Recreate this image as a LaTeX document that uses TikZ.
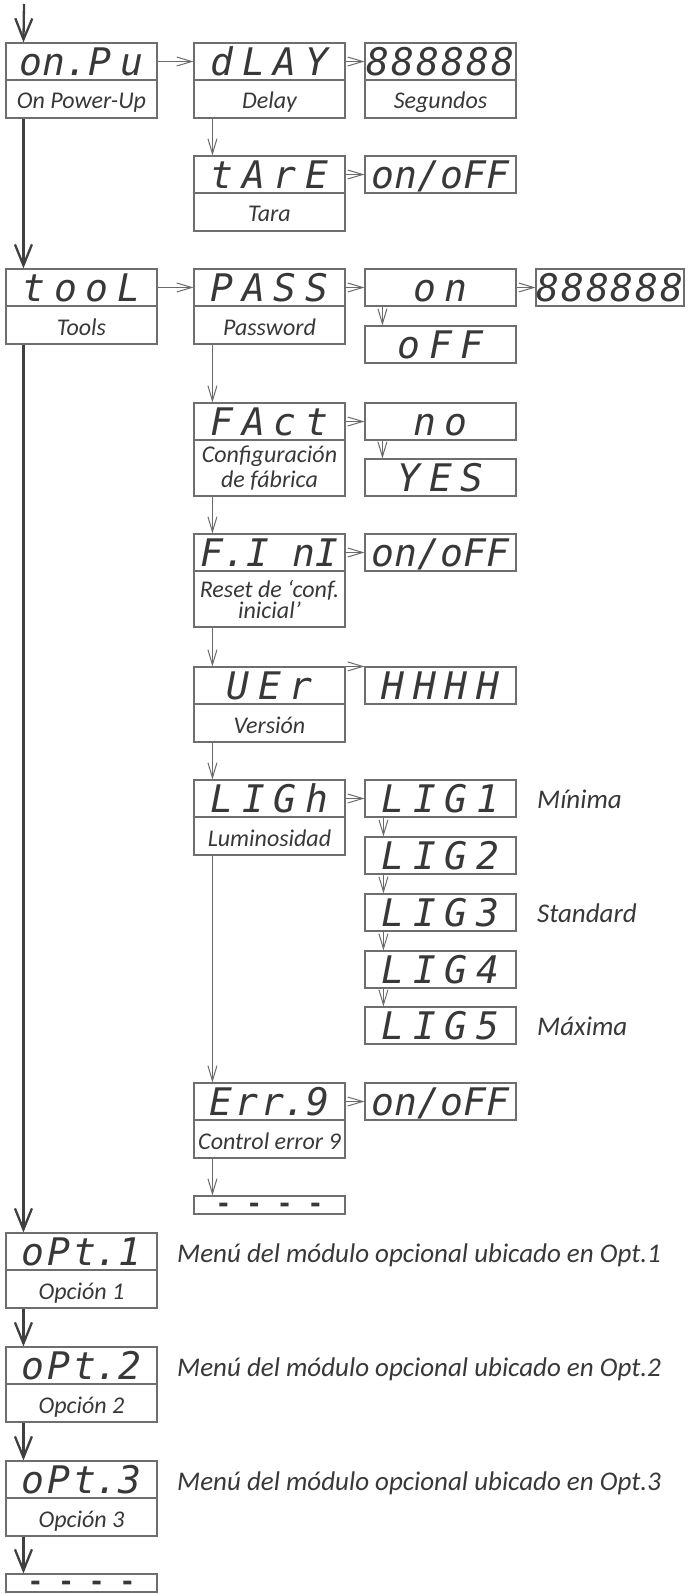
\documentclass[tikz,border=0pt]{standalone}
\usepackage{fontspec}
\setmainfont{Carlito}
\newfontfamily\segfont{DejaVu Sans Mono}
\usetikzlibrary{arrows.meta}
\definecolor{boxc}{HTML}{6E6E6E}
\definecolor{txt}{HTML}{383838}
\definecolor{thk}{HTML}{404040}
\definecolor{arc}{HTML}{6A6A6A}
\newcommand\gp{\kern9pt\relax}
\newcommand\gs{\kern3pt\relax}
\newcommand\gd{\kern15pt\relax}
\begin{document}
\begin{tikzpicture}[x=1pt,y=-1pt,
  box/.style={draw=boxc, line width=1.1pt, rectangle, inner sep=0pt, minimum width=151pt, text=txt},
  disp/.style={box, minimum height=37pt, font=\segfont\itshape\fontsize{38pt}{38pt}\selectfont, text height=27.5pt, text depth=0pt},
  desc/.style={box, font=\itshape\fontsize{24pt}{25pt}\selectfont, align=center},
  descone/.style={desc, minimum height=38pt, text height=20pt, text depth=0pt},
  dashbox/.style={box, minimum height=18pt},
  dashes/.style={anchor=north, inner sep=0pt, text=txt, font=\segfont\bfseries\fontsize{26pt}{26pt}\selectfont},
  side/.style={anchor=base west, inner sep=0pt, text=txt, font=\itshape\fontsize{27pt}{27pt}\selectfont},
  thickarrow/.style={draw=thk, line width=2.3pt, -{Straight Barb[length=21pt,width=17pt]}},
  thinarrow/.style={draw=arc, line width=1pt, -{Straight Barb[length=15pt,width=9pt]}}
]
\useasboundingbox (0,0) rectangle (689,1594);

% ---- column A
\node[disp]  (onpu)  at (81.5,61.5) {on.P\gp u};
\node[descone] (onpud) at (81.5,99) {On Power-Up};
\node[disp]  (tool)  at (81.5,287.5) {t\gp o\gp o\gp L};
\node[descone] (toold) at (81.5,325) {Tools};
\node[disp]  (opt1)  at (81.5,1251.5) {o\gs P\gs t.1};
\node[descone] (opt1d) at (81.5,1289) {Opción 1};
\node[disp]  (opt2)  at (81.5,1365.5) {o\gs P\gs t.2};
\node[descone] (opt2d) at (81.5,1403) {Opción 2};
\node[disp]  (opt3)  at (81.5,1479.5) {o\gs P\gs t.3};
\node[descone] (opt3d) at (81.5,1517) {Opción 3};
\node[dashbox] (enda) at (81.5,1583) {};
\node[dashes] (endat) at ([yshift=1.7pt]enda.center) {-\gd-\gd-\gd-};

% ---- column B
\node[disp]  (dlay)  at (269.5,61.5) {d\gp L\gp A\gp Y};
\node[descone] (dlayd) at (269.5,99) {Delay};
\node[disp]  (tare)  at (269.5,174.5) {t\gp A\gp r\gp E};
\node[descone] (tared) at (269.5,212) {Tara};
\node[disp]  (pass)  at (269.5,287.5) {P\gp A\gp S\gp S};
\node[descone] (passd) at (269.5,325) {Password};
\node[disp]  (fact)  at (269.5,421.5) {F\gp A\gp c\gp t};
\node[desc, minimum height=56pt] (factd) at (269.5,468) {Configuración\\de fábrica};
\node[disp]  (fini)  at (269.5,552.5) {F.I nI};
\node[desc, minimum height=56pt, font=\itshape\fontsize{24pt}{21pt}\selectfont] (finid) at (269.5,599) {Reset de ‘conf.\\inicial’};
\node[disp]  (ver)   at (269.5,685.5) {U\gp E\gp r};
\node[descone] (verd) at (269.5,723) {Versión};
\node[disp]  (ligh)  at (269.5,798.5) {L\gp I\gp G\gp h};
\node[descone] (lighd) at (269.5,836) {Luminosidad};
\node[disp]  (err)   at (269.5,1101.5) {E\gs r\gs r.9};
\node[descone] (errd) at (269.5,1139) {Control error 9};
\node[dashbox] (endb) at (269.5,1205) {};
\node[dashes] (endbt) at ([yshift=1.7pt]endb.center) {-\gd-\gd-\gd-};

% ---- column C
\node[disp]  (segs)  at (440.5,61.5) {8\kern2pt8\kern2pt8\kern2pt8\kern2pt8\kern2pt8};
\node[descone] (segsd) at (440.5,99) {Segundos};
\node[disp]  (onoffa) at (440.5,174.5) {on/oFF};
\node[disp]  (on)    at (440.5,287.5) {o\gp n};
\node[disp]  (off)   at (440.5,344.5) {o\gp F\gp F};
\node[disp]  (no)    at (440.5,421.5) {n\gp o};
\node[disp]  (yes)   at (440.5,477.5) {Y\gp E\gp S};
\node[disp]  (onoffb) at (440.5,552.5) {on/oFF};
\node[disp]  (hhhh)  at (440.5,685.5) {H\gp H\gp H\gp H};
\node[disp]  (ligA)  at (440.5,798.5) {L\gp I\gp G\gp 1};
\node[disp]  (ligB)  at (440.5,855.5) {L\gp I\gp G\gp 2};
\node[disp]  (ligC)  at (440.5,912.5) {L\gp I\gp G\gp 3};
\node[disp]  (ligD)  at (440.5,969.5) {L\gp I\gp G\gp 4};
\node[disp]  (ligE)  at (440.5,1025.5) {L\gp I\gp G\gp 5};
\node[disp]  (onoffc) at (440.5,1101.5) {on/oFF};

% ---- column D
\node[disp, minimum width=148pt] (segp) at (610,287.5) {8\kern2pt8\kern2pt8\kern2pt8\kern2pt8\kern2pt8};

% ---- side texts
\node[side] (tmin) at (537,808) {Mínima};
\node[side] (tstd) at (537,922) {Standard};
\node[side] (tmax) at (537,1035) {Máxima};
\node[side] (mo1) at (177,1262) {Menú del módulo opcional ubicado en Opt.1};
\node[side] (mo2) at (177,1376) {Menú del módulo opcional ubicado en Opt.2};
\node[side] (mo3) at (177,1490) {Menú del módulo opcional ubicado en Opt.3};

% ---- thick main flow
\coordinate (start) at (24,4);
\draw[thickarrow] (start) -- ([xshift=18pt]onpu.north west);
\draw[thickarrow] ([xshift=18pt]onpud.south west) -- ([xshift=18pt]tool.north west);
\draw[thickarrow] ([xshift=18pt]toold.south west) -- ([xshift=18pt]opt1.north west);
\draw[thickarrow] ([xshift=18pt]opt1d.south west) -- ([xshift=18pt]opt2.north west);
\draw[thickarrow] ([xshift=18pt]opt2d.south west) -- ([xshift=18pt]opt3.north west);
\draw[thickarrow] ([xshift=18pt]opt3d.south west) -- ([xshift=18pt]enda.north west);

% ---- thin connectors
\draw[thinarrow] (onpu.east) -- (dlay.west);
\draw[thinarrow] (dlay.east) -- (segs.west);
\draw[thinarrow] ([xshift=19pt]dlayd.south west) -- ([xshift=19pt]tare.north west);
\draw[thinarrow] (tare.east) -- (onoffa.west);
\draw[thinarrow] (tool.east) -- (pass.west);
\draw[thinarrow] (pass.east) -- (on.west);
\draw[thinarrow] (on.east) -- (segp.west);
\draw[thinarrow] ([xshift=18pt]on.south west) -- ([xshift=18pt]off.north west);
\draw[thinarrow] ([xshift=19pt]passd.south west) -- ([xshift=19pt]fact.north west);
\draw[thinarrow] (fact.east) -- (no.west);
\draw[thinarrow] ([xshift=18pt]no.south west) -- ([xshift=18pt]yes.north west);
\draw[thinarrow] ([xshift=19pt]factd.south west) -- ([xshift=19pt]fini.north west);
\draw[thinarrow] (fini.east) -- (onoffb.west);
\draw[thinarrow] ([xshift=19pt]finid.south west) -- ([xshift=19pt]ver.north west);
\draw[thinarrow] (ver.north east) -- (hhhh.north west);
\draw[thinarrow] ([xshift=19pt]verd.south west) -- ([xshift=19pt]ligh.north west);
\draw[thinarrow] (ligh.east) -- (ligA.west);
\draw[thinarrow] ([xshift=19pt]ligA.south west) -- ([xshift=19pt]ligB.north west);
\draw[thinarrow] ([xshift=19pt]ligB.south west) -- ([xshift=19pt]ligC.north west);
\draw[thinarrow] ([xshift=19pt]ligC.south west) -- ([xshift=19pt]ligD.north west);
\draw[thinarrow] ([xshift=19pt]ligD.south west) -- ([xshift=19pt]ligE.north west);
\draw[thinarrow] ([xshift=19pt]lighd.south west) -- ([xshift=19pt]err.north west);
\draw[thinarrow] (err.east) -- (onoffc.west);
\draw[thinarrow] ([xshift=19pt]errd.south west) -- ([xshift=19pt]endb.north west);
\end{tikzpicture}
\end{document}
